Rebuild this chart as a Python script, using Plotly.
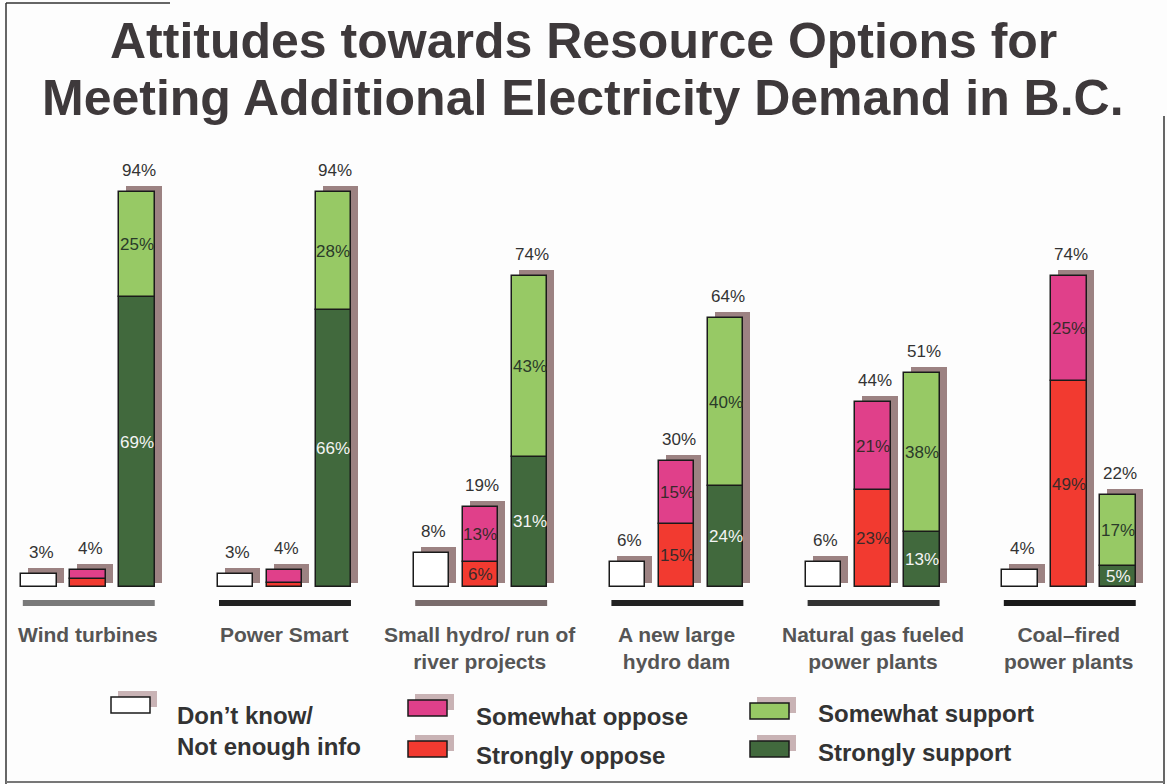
import plotly.graph_objects as go

# ---------------- data ----------------
categories = ["Wind turbines", "Power Smart", "Small hydro/ run of<br>river projects",
              "A new large<br>hydro dam", "Natural gas fueled<br>power plants",
              "Coal\u2013fired<br>power plants"]
dont_know = [3, 3, 8, 6, 6, 4]
strongly_oppose = [2, 1, 6, 15, 23, 49]
somewhat_oppose = [2, 3, 13, 15, 21, 25]
strongly_support = [69, 66, 31, 24, 13, 5]
somewhat_support = [25, 28, 43, 40, 38, 17]
oppose_total = [4, 4, 19, 30, 44, 74]
support_total = [94, 94, 74, 64, 51, 22]

title_lines = ["Attitudes towards Resource Options for",
               "Meeting Additional Electricity Demand in B.C."]
legend_labels = ["Don\u2019t know/<br>Not enough info", "Somewhat oppose", "Strongly oppose",
                 "Somewhat support", "Strongly support"]

# ---------------- styling ----------------
W, H = 1167, 784
PX_PER_UNIT = 49.05          # horizontal pixels per bar slot
PX_PER_PCT = 4.2             # vertical pixels per percent
BASE_PX = 587                # baseline pixel row
X0 = -39 / PX_PER_UNIT
Y_TOP = BASE_PX / PX_PER_PCT
Y_BOT = -(H - BASE_PX) / PX_PER_PCT

C_WHITE = "#ffffff"
C_PINK = "#e0408a"
C_RED = "#f23a30"
C_LGREEN = "#97c965"
C_DGREEN = "#41693d"
C_SHADOW = "#9c8282"
OUT = "#1a1a1a"
BW = 0.72

n = len(categories)
x_dk = [4 * i for i in range(n)]
x_op = [4 * i + 1 for i in range(n)]
x_su = [4 * i + 2 for i in range(n)]

sx = 7 / PX_PER_UNIT
sy = 6 / PX_PER_PCT
sb = 4 / PX_PER_PCT

fig = go.Figure()

def shadow(xs, tops):
    fig.add_trace(go.Bar(x=[v + sx for v in xs], y=[t + sy - sb for t in tops], base=[sb] * len(xs),
                         width=BW, marker=dict(color=C_SHADOW, line=dict(width=0)),
                         showlegend=False, hoverinfo="skip"))

shadow(x_dk, dont_know)
shadow(x_op, oppose_total)
shadow(x_su, support_total)

def bar(xs, vals, bases, color, name):
    fig.add_trace(go.Bar(x=xs, y=vals, base=bases, width=BW, name=name,
                         marker=dict(color=color, line=dict(color=OUT, width=1.5)),
                         showlegend=False))

bar(x_dk, dont_know, [0] * n, C_WHITE, "Don't know")
bar(x_op, strongly_oppose, [0] * n, C_RED, "Strongly oppose")
bar(x_op, somewhat_oppose, strongly_oppose, C_PINK, "Somewhat oppose")
bar(x_su, strongly_support, [0] * n, C_DGREEN, "Strongly support")
bar(x_su, somewhat_support, strongly_support, C_LGREEN, "Somewhat support")

ann = []
LBL_FONT = "Liberation Sans, Arial, sans-serif"

# totals above bars
for xs, tots in [(x_dk, dont_know), (x_op, oppose_total), (x_su, support_total)]:
    for x, t in zip(xs, tots):
        ann.append(dict(x=x, y=t, xref="x", yref="y", text=f"{t}%", showarrow=False,
                        yanchor="bottom", yshift=10, xshift=2,
                        font=dict(family=LBL_FONT, size=17, color="#333333")))

# segment labels
for xs, vals, bases, col in [(x_op, strongly_oppose, [0] * n, "#3a2a2a"),
                             (x_op, somewhat_oppose, strongly_oppose, "#3a2a2a"),
                             (x_su, strongly_support, [0] * n, "#f4f4f4"),
                             (x_su, somewhat_support, strongly_support, "#2a3a2a")]:
    for x, v, b in zip(xs, vals, bases):
        if v >= 5:
            ann.append(dict(x=x, y=b + v / 2, xref="x", yref="y", text=f"{v}%", showarrow=False,
                            font=dict(family=LBL_FONT, size=17, color=col)))

# category labels & underlines
under_cols = ["#7a7a7a", "#222222", "#7a6c6c", "#222222", "#333333", "#1a1a1a"]
shapes = []
for i, c in enumerate(categories):
    ann.append(dict(x=x_op[i], y=1 - 621 / H, xref="x", yref="paper", text=f"<b>{c}</b>",
                    showarrow=False, yanchor="top",
                    font=dict(family=LBL_FONT, size=21, color="#555555")))
    shapes.append(dict(type="line", xref="x", yref="y", x0=x_dk[i] - 0.33, x1=x_su[i] + 0.36,
                       y0=-16 / PX_PER_PCT, y1=-16 / PX_PER_PCT,
                       line=dict(color=under_cols[i], width=6)))

# title
for line, cy in zip(title_lines, [41, 98]):
    ann.append(dict(x=583 / W, y=1 - cy / H, xref="paper", yref="paper",
                    text=f"<b>{line}</b>", showarrow=False, yanchor="middle", xanchor="center",
                    font=dict(family=LBL_FONT, size=50, color="#3e393b")))

# legend (custom)
leg = [  # label index, colour, swatch left px, swatch top px, text centre y px
    (0, C_WHITE, 111, 697, 731),
    (1, C_PINK, 408, 700, 716),
    (2, C_RED, 408, 741, 755),
    (3, C_LGREEN, 750, 703, 713),
    (4, C_DGREEN, 750, 741, 752),
]
text_x = {0: 175, 1: 474, 2: 474, 3: 816, 4: 816}
for idx, col, lx, ty, tyc in leg:
    shapes.append(dict(type="rect", xref="paper", yref="paper",
                       x0=(lx + 7) / W, x1=(lx + 46) / W, y0=1 - (ty + 10) / H, y1=1 - (ty - 6) / H,
                       fillcolor="#c9b3b5", line=dict(width=0), layer="above"))
    shapes.append(dict(type="rect", xref="paper", yref="paper",
                       x0=lx / W, x1=(lx + 39) / W, y0=1 - (ty + 16) / H, y1=1 - ty / H,
                       fillcolor=col, line=dict(color=OUT, width=1.5), layer="above"))
    ann.append(dict(x=text_x[idx] / W, y=1 - tyc / H, xref="paper", yref="paper",
                    text=f"<b>{legend_labels[idx]}</b>", showarrow=False, xanchor="left",
                    yanchor="middle", align="left",
                    font=dict(family=LBL_FONT, size=24, color="#333333")))

# frame lines
frame = "#333333"
shapes += [
    dict(type="line", xref="paper", yref="paper", x0=6 / W, x1=6 / W, y0=0, y1=1 - 3 / H,
         line=dict(color=frame, width=1.5)),
    dict(type="line", xref="paper", yref="paper", x0=6 / W, x1=170 / W, y0=1 - 3 / H, y1=1 - 3 / H,
         line=dict(color=frame, width=1.5)),
    dict(type="line", xref="paper", yref="paper", x0=1164 / W, x1=1164 / W, y0=0, y1=1 - 116 / H,
         line=dict(color=frame, width=1.5)),
    dict(type="line", xref="paper", yref="paper", x0=6 / W, x1=1164 / W, y0=1 - 782 / H, y1=1 - 782 / H,
         line=dict(color="#777777", width=2)),
]

fig.update_layout(
    width=W, height=H, margin=dict(l=0, r=0, t=0, b=0),
    paper_bgcolor="#fdfdfd", plot_bgcolor="#fdfdfd",
    barmode="overlay", bargap=0, showlegend=False,
    xaxis=dict(range=[X0, X0 + W / PX_PER_UNIT], visible=False, fixedrange=True),
    yaxis=dict(range=[Y_BOT, Y_TOP], visible=False, fixedrange=True),
    annotations=ann, shapes=shapes,
)

fig.write_html("out.html")
